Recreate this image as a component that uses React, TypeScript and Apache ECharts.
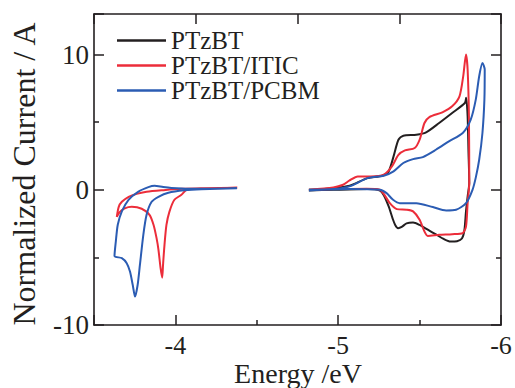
import React, { useEffect, useRef } from "react";
import * as echarts from "echarts";

// Energy (eV), normalized current (A) pairs, in scan order
const ptzbtOx: number[][] = [
  [-4.82, 0], [-4.97, 0.12], [-5.07, 0.3], [-5.18, 0.86], [-5.27, 1.04], [-5.31, 1.36],
  [-5.34, 2.47], [-5.37, 3.7], [-5.4, 4.0], [-5.48, 4.07], [-5.54, 4.25], [-5.62, 4.94],
  [-5.7, 5.68], [-5.778, 6.42], [-5.786, 6.8], [-5.795, 5.43], [-5.8, 2.96], [-5.805, 0.5],
  [-5.795, -0.5], [-5.785, -1.6], [-5.775, -3.0], [-5.76, -3.6], [-5.73, -3.8], [-5.69, -3.83],
  [-5.65, -3.65], [-5.6, -3.3], [-5.55, -2.95], [-5.5, -2.6], [-5.46, -2.42], [-5.42, -2.48],
  [-5.39, -2.75], [-5.368, -2.84], [-5.35, -2.6], [-5.335, -2.15], [-5.31, -1.23], [-5.28, -0.4],
  [-5.256, -0.05], [-5.18, 0.05], [-4.97, 0], [-4.82, -0.05],
];

const iticOx: number[][] = [
  [-4.82, 0], [-4.97, 0.17], [-5.03, 0.37], [-5.07, 0.69], [-5.12, 0.99], [-5.2, 0.99],
  [-5.28, 1.11], [-5.33, 1.73], [-5.37, 2.59], [-5.41, 2.91], [-5.47, 3.09], [-5.5, 3.7],
  [-5.53, 4.94], [-5.56, 5.38], [-5.64, 5.73], [-5.7, 6.17], [-5.745, 6.91], [-5.768, 8.4],
  [-5.785, 10.0], [-5.795, 8.9], [-5.803, 5.43], [-5.805, 0.5], [-5.795, -0.99], [-5.785, -2.72],
  [-5.765, -3.2], [-5.7, -3.28], [-5.62, -3.33], [-5.55, -3.41], [-5.53, -3.09], [-5.5, -2.22],
  [-5.46, -1.6], [-5.42, -1.48], [-5.36, -1.43], [-5.317, -0.99], [-5.28, -0.3], [-5.256, 0],
  [-5.175, 0.07], [-4.97, 0.05], [-4.82, 0],
];

const iticRed: number[][] = [
  [-4.38, 0.15], [-4.16, 0.11], [-4.07, 0], [-4.037, -0.37], [-3.994, -0.74], [-3.963, -1.63],
  [-3.945, -2.6], [-3.933, -4.07], [-3.924, -5.56], [-3.919, -6.5], [-3.909, -5.8], [-3.896, -4.44],
  [-3.884, -3.56], [-3.866, -2.6], [-3.841, -1.85], [-3.793, -1.4], [-3.732, -1.26], [-3.689, -1.37],
  [-3.659, -1.63], [-3.64, -2.0], [-3.652, -1.26], [-3.671, -0.89], [-3.713, -0.52], [-3.762, -0.3],
  [-3.823, -0.15], [-3.915, -0.04], [-4.037, 0.07], [-4.38, 0.15],
];

const pcbmOx: number[][] = [
  [-4.82, 0], [-4.97, 0.05], [-5.07, 0.25], [-5.18, 0.86], [-5.28, 1.04], [-5.34, 1.36],
  [-5.4, 1.98], [-5.46, 2.27], [-5.52, 2.42], [-5.6, 2.96], [-5.68, 3.58], [-5.765, 4.2],
  [-5.814, 5.19], [-5.845, 6.67], [-5.866, 8.4], [-5.886, 9.38], [-5.9, 8.9], [-5.898, 6.67],
  [-5.886, 4.2], [-5.866, 2.22], [-5.845, 0.9], [-5.825, 0], [-5.785, -0.99], [-5.724, -1.48],
  [-5.663, -1.53], [-5.581, -1.28], [-5.48, -0.99], [-5.378, -0.99], [-5.337, -0.74],
  [-5.297, -0.25], [-5.256, 0], [-5.073, 0.05], [-4.82, -0.05],
];

const pcbmRed: number[][] = [
  [-4.378, 0.11], [-4.159, 0.04], [-4.055, -0.04], [-3.957, -0.22], [-3.896, -0.52], [-3.854, -0.89],
  [-3.823, -1.85], [-3.803, -3.33], [-3.782, -5.56], [-3.768, -7.04], [-3.752, -7.9], [-3.738, -7.04],
  [-3.721, -6.05], [-3.701, -5.43], [-3.671, -5.06], [-3.626, -4.89], [-3.634, -3.83], [-3.646, -2.59],
  [-3.671, -1.6], [-3.712, -0.74], [-3.773, -0.13], [-3.834, 0.2], [-3.872, 0.3], [-3.925, 0.2],
  [-3.976, 0.13], [-4.079, 0.07], [-4.378, 0.11],
];

const seriesNames = ["PTzBT", "PTzBT/ITIC", "PTzBT/PCBM"];
const seriesColors = ["#231f20", "#ec2d3a", "#2b5cb3"];
const xTickLabels = [-4, -5, -6];
const yTickLabels = [-10, 0, 10];

const FONT = "'Liberation Serif', 'Times New Roman', serif";
const INK = "#231f20";

export default function App() {
  const ref = useRef<HTMLDivElement>(null);
  useEffect(() => {
    document.body.style.margin = "0";
    if (!ref.current) return;
    const chart = echarts.init(ref.current, undefined, { renderer: "svg" });
    const lineSeries = (name: string, color: string, data: number[][]) => ({
      type: "line",
      name,
      data,
      color,
      symbol: "none",
      smooth: 0.25,
      lineStyle: { color, width: 2 },
      z: 3,
    });
    const axisLine = { show: true, onZero: false, lineStyle: { color: INK, width: 1.6 } };
    const tick = { show: true, inside: true, length: 10, lineStyle: { color: INK, width: 1.5 } };
    const minor = { show: true, splitNumber: 2, length: 5, lineStyle: { color: INK, width: 1.5 } };
    chart.setOption({
      animation: false,
      grid: { left: 94, right: 14, top: 14, bottom: 63 },
      legend: {
        orient: "vertical",
        left: 117,
        top: 28,
        padding: 0,
        icon: "rect",
        itemWidth: 49,
        itemHeight: 2.5,
        itemGap: 0,
        data: seriesNames,
        textStyle: { fontFamily: FONT, fontSize: 25, color: INK, lineHeight: 24.7 },
      },
      xAxis: [
        {
          type: "value",
          min: -6,
          max: -3.5,
          interval: 1,
          inverse: true,
          position: "bottom",
          axisLine,
          axisTick: tick,
          minorTick: minor,
          splitLine: { show: false },
          axisLabel: {
            margin: 7,
            fontFamily: FONT,
            fontSize: 26,
            color: INK,
            formatter: (v: number) => (xTickLabels.indexOf(v) >= 0 ? String(v) : ""),
          },
        },
        {
          type: "value",
          min: 0,
          max: 4,
          interval: 1,
          position: "top",
          axisLine,
          axisTick: tick,
          splitLine: { show: false },
          axisLabel: { show: false },
        },
      ],
      yAxis: [
        {
          type: "value",
          min: -10,
          max: 13,
          interval: 10,
          position: "left",
          axisLine,
          axisTick: tick,
          minorTick: minor,
          splitLine: { show: false },
          axisLabel: {
            margin: 5,
            fontFamily: FONT,
            fontSize: 27,
            color: INK,
            formatter: (v: number) => (yTickLabels.indexOf(v) >= 0 ? String(v) : ""),
          },
        },
        {
          type: "value",
          min: -10,
          max: 13,
          interval: 10,
          position: "right",
          axisLine,
          axisTick: tick,
          minorTick: minor,
          splitLine: { show: false },
          axisLabel: { show: false },
        },
      ],
      graphic: [
        {
          type: "text",
          x: 298,
          y: 373,
          style: {
            text: "Energy /eV",
            fontFamily: FONT,
            fontSize: 28,
            fill: INK,
            align: "center",
            verticalAlign: "middle",
          },
        },
        {
          type: "text",
          x: 24,
          y: 174,
          rotation: Math.PI / 2,
          style: {
            text: "Normalized Current / A",
            fontFamily: FONT,
            fontSize: 32,
            fill: INK,
            align: "center",
            verticalAlign: "middle",
          },
        },
      ],
      series: [
        lineSeries(seriesNames[0], seriesColors[0], ptzbtOx),
        lineSeries(seriesNames[1], seriesColors[1], iticOx),
        lineSeries(seriesNames[1], seriesColors[1], iticRed),
        lineSeries(seriesNames[2], seriesColors[2], pcbmOx),
        lineSeries(seriesNames[2], seriesColors[2], pcbmRed),
      ],
    });
    return () => chart.dispose();
  }, []);
  return <div ref={ref} style={{ width: 515, height: 388 }} />;
}
